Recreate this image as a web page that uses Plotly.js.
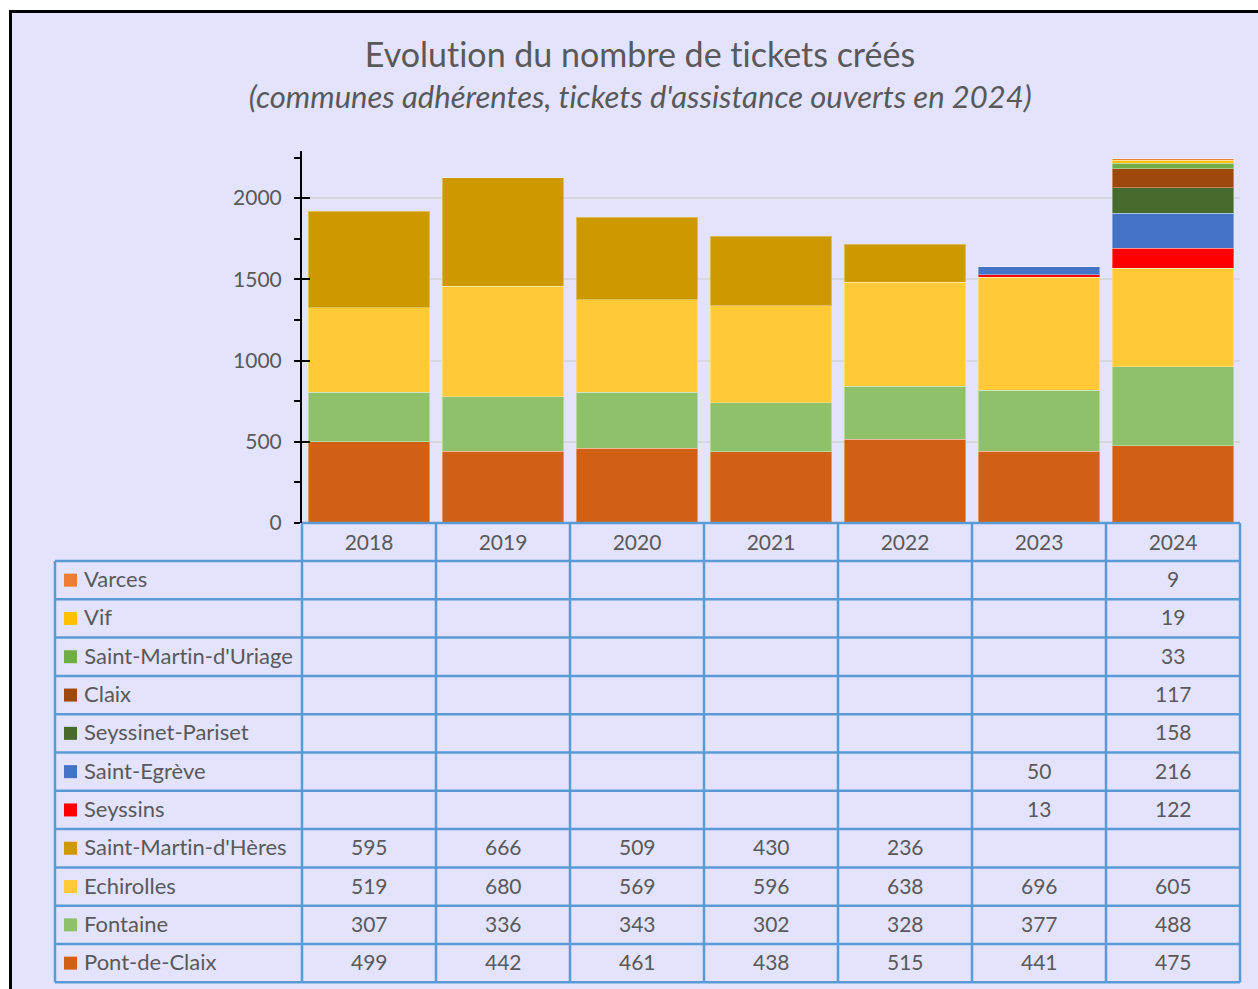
<!DOCTYPE html>
<html>
<head>
<meta charset="utf-8">
<script src="https://cdn.plot.ly/plotly-3.0.1.min.js"></script>
<style>
  html, body { margin: 0; padding: 0; background: #ffffff; overflow: hidden; }
  #frame { position: absolute; left: 9px; top: 10px; width: 1300px; height: 1050px;
           border: 3px solid #000; background: #E3E3FE; box-sizing: border-box; }
  #chart { position: absolute; left: 0; top: 0; width: 1258px; height: 989px; }
  #chart text { font-variant-ligatures: none; font-feature-settings: "liga" 0, "dlig" 0; }
</style>
</head>
<body>
<div id="frame"></div>
<div id="chart"></div>
<script>
// ---- Data ----
const years = ['2018', '2019', '2020', '2021', '2022', '2023', '2024'];

const pontDeClaix        = [499, 442, 461, 438, 515, 441, 475];
const fontaine           = [307, 336, 343, 302, 328, 377, 488];
const echirolles         = [519, 680, 569, 596, 638, 696, 605];
const saintMartinHeres   = [595, 666, 509, 430, 236, null, null];
const seyssins           = [null, null, null, null, null, 13, 122];
const saintEgreve        = [null, null, null, null, null, 50, 216];
const seyssinetPariset   = [null, null, null, null, null, null, 158];
const claix              = [null, null, null, null, null, null, 117];
const saintMartinUriage  = [null, null, null, null, null, null, 33];
const vif                = [null, null, null, null, null, null, 19];
const varces             = [null, null, null, null, null, null, 9];

// stacking order bottom -> top
const seriesNames = ['Pont-de-Claix', 'Fontaine', 'Echirolles', "Saint-Martin-d'Hères", 'Seyssins',
  'Saint-Egrève', 'Seyssinet-Pariset', 'Claix', "Saint-Martin-d'Uriage", 'Vif', 'Varces'];
const seriesValues = [pontDeClaix, fontaine, echirolles, saintMartinHeres, seyssins,
  saintEgreve, seyssinetPariset, claix, saintMartinUriage, vif, varces];
const seriesColors = ['#D26014', '#8EC16A', '#FFCA35', '#CC9900', '#FF0000',
  '#4472C4', '#466B2D', '#9E480E', '#70AD47', '#FFC000', '#ED7D31'];

// ---- Layout geometry (pixels) ----
const W = 1258, H = 989;
const L = 302, R = 1240, T = 151, B = 523;
const FONT = 'Lato, "Open Sans", sans-serif';
const GRAY = '#595959';
const BLUE = '#5B9BD5';
const px = v => (v - L) / (R - L);
const py = v => (B - v) / (B - T);

const headerTop = 523, rowsTop = 561, rowH = 38.3;
const nRows = seriesNames.length;
const tableLeft = 55;
const colW = (R - L) / years.length;

const traces = seriesNames.map((name, i) => ({
  type: 'bar', name: name, x: years, y: seriesValues[i],
  marker: { color: seriesColors[i], line: { color: 'rgba(255,255,255,0.35)', width: 1 } },
  showlegend: false, hoverinfo: 'x+y+name'
}));
// helper trace for overlay axis (inside major ticks)
traces.push({ type: 'scatter', x: years, y: years.map(() => null), yaxis: 'y2',
  mode: 'none', showlegend: false, hoverinfo: 'skip' });

const shapes = [];
const annotations = [];
const lineStyle = { color: BLUE, width: 2.5 };

// horizontal table lines
shapes.push({ type: 'line', xref: 'paper', yref: 'paper', x0: px(L), x1: px(R),
  y0: py(headerTop), y1: py(headerTop), line: lineStyle });
for (let r = 0; r <= nRows; r++) {
  const y = rowsTop + r * rowH;
  shapes.push({ type: 'line', xref: 'paper', yref: 'paper', x0: px(tableLeft), x1: px(R),
    y0: py(y), y1: py(y), line: lineStyle });
}
// vertical table lines
shapes.push({ type: 'line', xref: 'paper', yref: 'paper', x0: px(tableLeft), x1: px(tableLeft),
  y0: py(rowsTop), y1: py(rowsTop + nRows * rowH), line: lineStyle });
for (let c = 0; c <= years.length; c++) {
  const x = L + c * colW;
  shapes.push({ type: 'line', xref: 'paper', yref: 'paper', x0: px(x), x1: px(x),
    y0: py(headerTop), y1: py(rowsTop + nRows * rowH), line: lineStyle });
}

// rows (top -> bottom is reverse of stacking order)
for (let r = 0; r < nRows; r++) {
  const si = nRows - 1 - r;
  const yc = rowsTop + r * rowH + rowH / 2;
  shapes.push({ type: 'rect', xref: 'paper', yref: 'paper', x0: px(64), x1: px(77),
    y0: py(yc - 6.5), y1: py(yc + 6.5), fillcolor: seriesColors[si], line: { width: 0 } });
  annotations.push({ xref: 'paper', yref: 'paper', x: px(82), y: py(yc - 1.5), xanchor: 'left',
    yanchor: 'middle', text: seriesNames[si], showarrow: false,
    font: { family: FONT, size: 22, color: GRAY } });
  seriesValues[si].forEach((v, j) => {
    if (v === null) return;
    annotations.push({ xref: 'paper', yref: 'paper', x: px(L + (j + 0.5) * colW), y: py(yc - 1.5),
      xanchor: 'center', yanchor: 'middle', text: String(v), showarrow: false,
      font: { family: FONT, size: 21, color: GRAY } });
  });
}

// subtitle
annotations.push({ xref: 'paper', yref: 'paper', x: px(640), y: py(96), xanchor: 'center',
  yanchor: 'middle', showarrow: false,
  text: "<i>(communes adhérentes, tickets d'assistance ouverts en 2024)</i>",
  font: { family: FONT, size: 31, color: GRAY } });

const layout = {
  width: W, height: H,
  margin: { l: L, r: W - R, t: T, b: H - B, pad: 0 },
  paper_bgcolor: 'rgba(0,0,0,0)', plot_bgcolor: 'rgba(0,0,0,0)',
  barmode: 'stack', bargap: 0.09,
  font: { family: FONT, color: GRAY },
  title: { text: 'Evolution du nombre de tickets créés', xref: 'container', yref: 'container',
    x: 640 / W, y: 1 - 55 / H, xanchor: 'center', yanchor: 'middle',
    font: { family: FONT, size: 34, color: GRAY } },
  xaxis: { type: 'category', range: [-0.5, years.length - 0.5], showline: false, showgrid: false,
    zeroline: false, ticks: '', tickfont: { family: FONT, size: 21, color: GRAY },
    ticklabelstandoff: 5, fixedrange: true },
  yaxis: { range: [0, 2290], dtick: 500, tick0: 0, showline: true, linecolor: '#000', linewidth: 2,
    ticks: 'outside', ticklen: 6, tickwidth: 2, tickcolor: '#000',
    showgrid: true, gridcolor: '#D6D6DE', gridwidth: 2, zeroline: false,
    tickfont: { family: FONT, size: 21, color: GRAY }, ticklabelstandoff: 8,
    minor: { dtick: 250, tick0: 0, ticks: 'outside', ticklen: 6, tickwidth: 2, tickcolor: '#000', showgrid: false },
    fixedrange: true },
  yaxis2: { overlaying: 'y', side: 'left', range: [0, 2290], dtick: 500, tick0: 0,
    ticks: 'inside', ticklen: 8, tickwidth: 2, tickcolor: '#000', showticklabels: false,
    showgrid: false, showline: false, zeroline: false, fixedrange: true },
  shapes: shapes,
  annotations: annotations
};

Plotly.newPlot('chart', traces, layout, { displayModeBar: false, staticPlot: true });
</script>
</body>
</html>
